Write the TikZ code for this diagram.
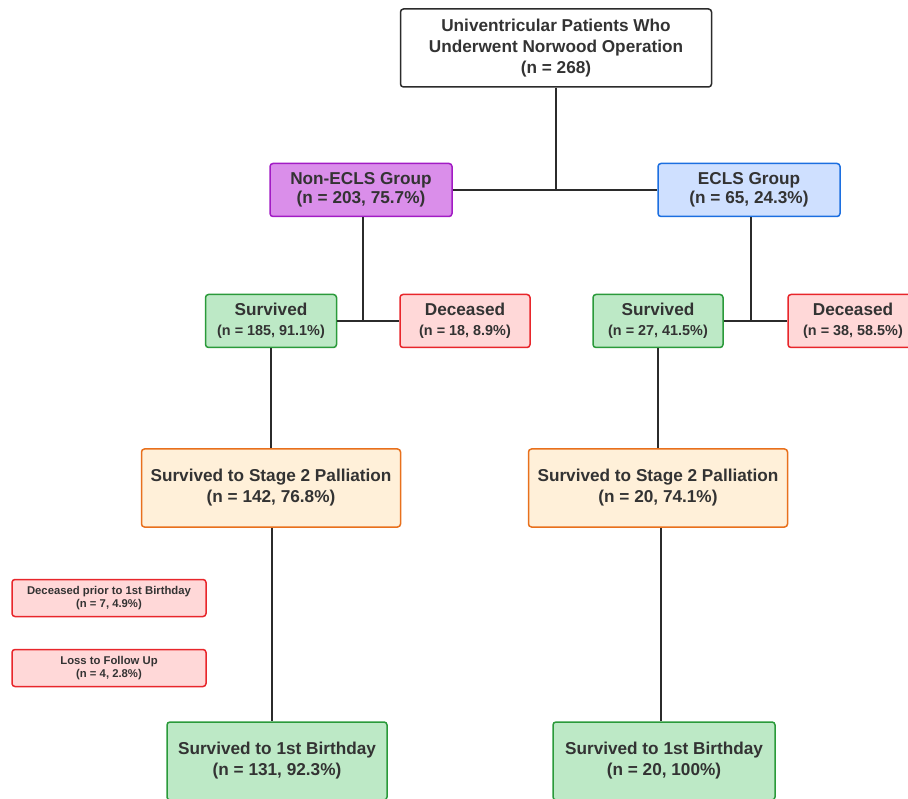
\documentclass[tikz,border=0pt]{standalone}
\usepackage{fontspec}
\setmainfont{Liberation Sans}
\definecolor{txt}{HTML}{333333}
\definecolor{purfill}{HTML}{DA8EEA}
\definecolor{purdraw}{HTML}{A21CC4}
\definecolor{bluefill}{HTML}{CFE0FF}
\definecolor{bluedraw}{HTML}{1C6FE0}
\definecolor{grnfill}{HTML}{BDE9C6}
\definecolor{grndraw}{HTML}{2A9A3A}
\definecolor{redfill}{HTML}{FFD8D8}
\definecolor{reddraw}{HTML}{E8262B}
\definecolor{orfill}{HTML}{FFF0D9}
\definecolor{ordraw}{HTML}{E8701C}
\definecolor{linec}{HTML}{2B2B2B}
\newcommand{\bigf}{\fontsize{17.2}{21}\selectfont\bfseries}
\newcommand{\midf}{\fontsize{14.4}{18}\selectfont\bfseries}
\newcommand{\smf}{\fontsize{11.3}{13}\selectfont\bfseries}
\begin{document}
\begin{tikzpicture}[x=1pt,y=-1pt,
  box/.style={rectangle, rounded corners=3pt, line width=1.5pt, align=center, text=txt, inner sep=0pt},
  topbox/.style={box, draw=linec, fill=white},
  purbox/.style={box, draw=purdraw, fill=purfill},
  bluebox/.style={box, draw=bluedraw, fill=bluefill},
  grnbox/.style={box, draw=grndraw, fill=grnfill},
  redbox/.style={box, draw=reddraw, fill=redfill},
  orbox/.style={box, draw=ordraw, fill=orfill},
  conn/.style={draw=linec, line width=2pt}]
\useasboundingbox (0,0) rectangle (908,799);

\node[topbox, font=\bigf, minimum width=311pt, minimum height=78pt] (top) at (556,48)
  {Univentricular Patients Who\\ Underwent Norwood Operation\\ (n = 268)};

\node[purbox, font=\bigf, minimum width=182pt, minimum height=53pt] (necls) at (361,190)
  {Non-ECLS Group\\[-2pt] (n = 203, 75.7\%)};
\node[bluebox, font=\bigf, minimum width=182pt, minimum height=53pt] (ecls) at (749,190)
  {ECLS Group\\[-2pt] (n = 65, 24.3\%)};

\node[grnbox, font=\bigf, minimum width=131pt, minimum height=53pt] (survL) at (271,321)
  {Survived\\[-1pt] {\midf (n = 185, 91.1\%)}};
\node[redbox, font=\bigf, minimum width=130pt, minimum height=53pt] (decL) at (465,321)
  {Deceased\\[-1pt] {\midf (n = 18, 8.9\%)}};
\node[grnbox, font=\bigf, minimum width=130pt, minimum height=53pt] (survR) at (658,321)
  {Survived\\[-1pt] {\midf (n = 27, 41.5\%)}};
\node[redbox, font=\bigf, minimum width=130pt, minimum height=53pt] (decR) at (853,321)
  {Deceased\\[-1pt] {\midf (n = 38, 58.5\%)}};

\node[orbox, font=\bigf, minimum width=259pt, minimum height=78pt] (st2L) at (271,488)
  {Survived to Stage 2 Palliation\\ (n = 142, 76.8\%)};
\node[orbox, font=\bigf, minimum width=259pt, minimum height=78pt] (st2R) at (658,488)
  {Survived to Stage 2 Palliation\\ (n = 20, 74.1\%)};

\node[redbox, font=\smf, minimum width=194pt, minimum height=37pt] (dec1) at (109,598)
  {Deceased prior to 1st Birthday\\ (n = 7, 4.9\%)};
\node[redbox, font=\smf, minimum width=194pt, minimum height=37pt] (loss) at (109,668)
  {Loss to Follow Up\\ (n = 4, 2.8\%)};

\node[grnbox, font=\bigf, minimum width=220pt, minimum height=78pt] (birL) at (277,761)
  {Survived to 1st Birthday\\ (n = 131, 92.3\%)};
\node[grnbox, font=\bigf, minimum width=222pt, minimum height=78pt] (birR) at (664,761)
  {Survived to 1st Birthday\\ (n = 20, 100\%)};

\draw[conn] (necls.east) -- (ecls.west);
\draw[conn] (top.south) -- (top.south |- necls.east);
\draw[conn] (survL.east) -- (decL.west);
\draw[conn] ([xshift=2pt]necls.south) -- ([xshift=2pt]necls.south |- survL.east);
\draw[conn] (survR.east) -- (decR.west);
\draw[conn] ([xshift=2pt]ecls.south) -- ([xshift=2pt]ecls.south |- survR.east);
\draw[conn] (survL.south) -- (survL.south |- st2L.north);
\draw[conn] (survR.south) -- (survR.south |- st2R.north);
\draw[conn] ([xshift=1pt]st2L.south) -- ([xshift=1pt]st2L.south |- birL.north);
\draw[conn] ([xshift=3pt]st2R.south) -- ([xshift=3pt]st2R.south |- birR.north);
\end{tikzpicture}
\end{document}
